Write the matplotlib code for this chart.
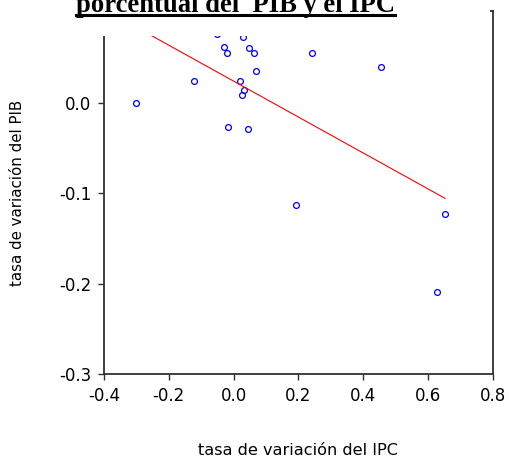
import numpy as np
import matplotlib
matplotlib.use("Agg")
import matplotlib.pyplot as plt
from matplotlib.patches import Rectangle
from matplotlib.lines import Line2D

# tasa de variacion del IPC (x) y del PIB (y)
ipc = [-0.301, -0.122, -0.051, -0.029, -0.022, -0.019, 0.019, 0.027, 0.030,
       0.031, 0.045, 0.046, 0.064, 0.068, 0.193, 0.241, 0.453, 0.626, 0.652]
pib = [0.000, 0.025, 0.076, 0.062, 0.055, -0.027, 0.025, 0.009, 0.073,
       0.014, -0.029, 0.061, 0.055, 0.036, -0.113, 0.056, 0.040, -0.209, -0.123]

# recta de regresion (ordenada y pendiente)
fit_intercept = 0.0243
fit_slope = -0.199

x_ticks = [-0.4, -0.2, 0.0, 0.2, 0.4, 0.6, 0.8]
y_ticks = [-0.3, -0.2, -0.1, 0.0]

title = "porcentual del  PIB y el IPC"
xlabel = "tasa de variación del IPC"
ylabel = "tasa de variación del PIB"

W, H = 509, 457
fig = plt.figure(figsize=(W / 100, H / 100), dpi=100)
ax = fig.add_axes([104 / W, (H - 374) / H, (493 - 104) / W, (374 - 11) / H])

ax.plot(ipc, pib, linestyle="none", marker="o", markersize=4.2,
        markerfacecolor="none", markeredgecolor="#0000ff", markeredgewidth=0.9)

xs = np.array([min(ipc), max(ipc)])
ax.plot(xs, fit_intercept + fit_slope * xs, color="#ff0000", linewidth=0.8)

ax.set_xlim(-0.4, 0.8)
ax.set_ylim(-0.3, 0.102)
ax.set_xticks(x_ticks)
ax.set_xticklabels([f"{v:.1f}" for v in x_ticks])
ax.set_yticks(y_ticks)
ax.set_yticklabels([f"{v:.1f}" for v in y_ticks])

for s in ax.spines.values():
    s.set_color("#303030")
    s.set_linewidth(1.3)
ax.tick_params(direction="out", length=4.5, width=1.0, color="#303030",
               labelsize=12)
ax.tick_params(axis="x", pad=5)
ax.tick_params(axis="y", pad=4.5)
for lab in ax.get_xticklabels() + ax.get_yticklabels():
    lab.set_fontfamily("DejaVu Sans")

fig.text(298 / W, 1 - 455 / H, xlabel, ha="center", va="baseline",
         fontsize=11.6, family="DejaVu Sans")
fig.text(17.5 / W, 1 - 192.5 / H, ylabel, ha="center", va="center",
         rotation=90, fontsize=10.8, family="DejaVu Sans")

# caja blanca del titulo que tapa la parte superior del grafico
fig.add_artist(Rectangle((0, 1 - 36 / H), 490 / W, 36 / H,
                         transform=fig.transFigure, facecolor="white",
                         edgecolor="none", zorder=5))
t = fig.text(76 / W, 1 - 12 / H, title, ha="left", va="baseline",
             fontsize=19.2, fontweight="bold", family="Liberation Serif", zorder=6)
fig.canvas.draw()
bb = t.get_window_extent()
fig.add_artist(Line2D([bb.x0 / W, bb.x1 / W], [1 - 14.5 / H, 1 - 14.5 / H],
                      transform=fig.transFigure, color="black",
                      linewidth=2.2, zorder=6))

fig.savefig("out.png", dpi=100)
